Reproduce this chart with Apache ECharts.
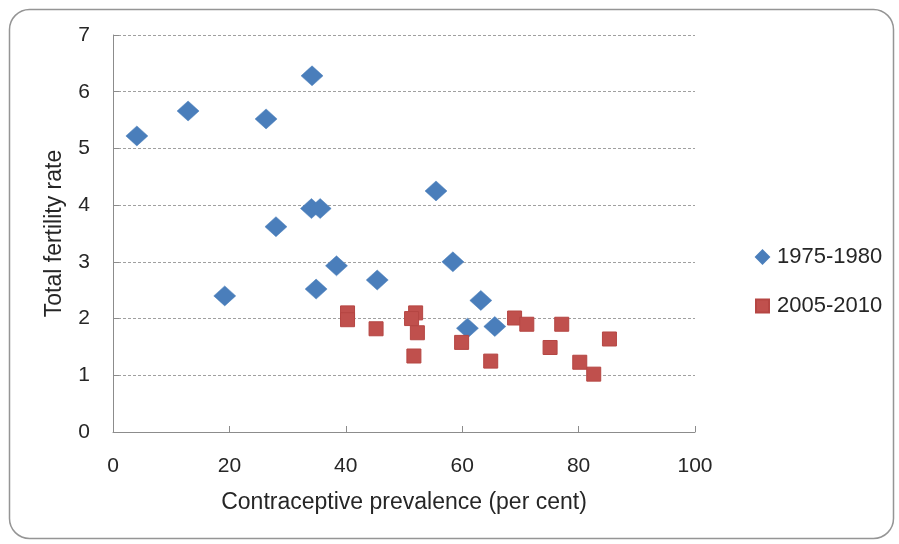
<!DOCTYPE html>
<html>
<head>
<meta charset="utf-8">
<script src="https://cdn.jsdelivr.net/npm/echarts@6/dist/echarts.min.js"></script>
<style>html,body{margin:0;padding:0;background:#fff;}#c{width:899px;height:544px;}</style>
</head>
<body>
<div id="c"></div>
<script>
const seriesNames = ['1975-1980', '2005-2010'];
const prevalence1975 = [4.1, 12.9, 26.3, 34.2, 34.1, 35.6, 28.0, 19.2, 38.4, 34.9, 45.4, 55.5, 58.4, 63.2, 60.9, 65.6];
const fertility1975  = [5.22, 5.66, 5.52, 6.28, 3.94, 3.94, 3.62, 2.40, 2.93, 2.52, 2.68, 4.25, 3.00, 2.32, 1.83, 1.86];
const prevalence2005 = [40.3, 40.3, 45.2, 52.0, 51.3, 52.3, 51.7, 59.9, 64.9, 69.0, 71.1, 75.1, 77.1, 80.2, 82.6, 85.3];
const fertility2005  = [2.10, 1.98, 1.82, 2.10, 2.00, 1.75, 1.34, 1.58, 1.25, 2.01, 1.90, 1.49, 1.90, 1.23, 1.02, 1.64];
const xTitle = 'Contraceptive prevalence (per cent)';
const yTitle = 'Total fertility rate';

const pairs = (xs, ys) => xs.map((x, i) => [x, ys[i]]);
const FONT = 'Liberation Sans';
const TXT = '#262626';
const chart = echarts.init(document.getElementById('c'), null, {renderer: 'canvas'});
chart.setOption({
  animation: false,
  backgroundColor: '#ffffff',
  textStyle: {fontFamily: FONT, color: TXT},
  graphic: [{
    type: 'rect', left: 7, top: 7, silent: true,
    shape: {width: 884, height: 529, r: 20},
    style: {fill: 'none', stroke: '#959595', lineWidth: 1.5}
  }],
  grid: {left: 113, right: 204, top: 35, bottom: 112, containLabel: false},
  legend: {
    orient: 'vertical', left: 750, top: 241, itemGap: 27,
    itemWidth: 13, itemHeight: 13,
    textStyle: {fontFamily: FONT, fontSize: 22, color: TXT, padding: [0, 0, 0, 3]},
    data: [{name: seriesNames[0], icon: 'diamond'}, {name: seriesNames[1], icon: 'rect'}]
  },
  xAxis: {
    type: 'value', min: 0, max: 100, interval: 20,
    name: xTitle, nameLocation: 'middle', nameGap: 59,
    nameTextStyle: {fontFamily: FONT, fontSize: 23, color: TXT},
    axisLine: {show: true, lineStyle: {color: '#8c8c8c', width: 1}},
    axisTick: {show: true, inside: true, length: 6, lineStyle: {color: '#8c8c8c'}},
    axisLabel: {fontFamily: FONT, fontSize: 21, color: TXT, margin: 24},
    splitLine: {show: false}
  },
  yAxis: {
    type: 'value', min: 0, max: 7, interval: 1,
    name: yTitle, nameLocation: 'middle', nameGap: 47,
    nameTextStyle: {fontFamily: FONT, fontSize: 23, color: TXT},
    axisLine: {show: true, lineStyle: {color: '#8c8c8c', width: 1}},
    axisTick: {show: true, inside: true, length: 6, lineStyle: {color: '#8c8c8c'}},
    axisLabel: {fontFamily: FONT, fontSize: 21, color: TXT, margin: 23},
    splitLine: {show: true, lineStyle: {color: '#a0a0a0', type: [3, 2], width: 1}}
  },
  series: [
    {
      name: seriesNames[0], type: 'scatter', symbol: 'diamond', symbolSize: [22, 20],
      itemStyle: {color: '#4a7ebb', borderColor: '#4a7ebb', borderWidth: 0.5, opacity: 1},
      data: pairs(prevalence1975, fertility1975)
    },
    {
      name: seriesNames[1], type: 'scatter', symbol: 'rect', symbolSize: 14,
      itemStyle: {color: '#c0504d', borderColor: '#b54643', borderWidth: 1, opacity: 1},
      data: pairs(prevalence2005, fertility2005)
    }
  ]
});
</script>
</body>
</html>
